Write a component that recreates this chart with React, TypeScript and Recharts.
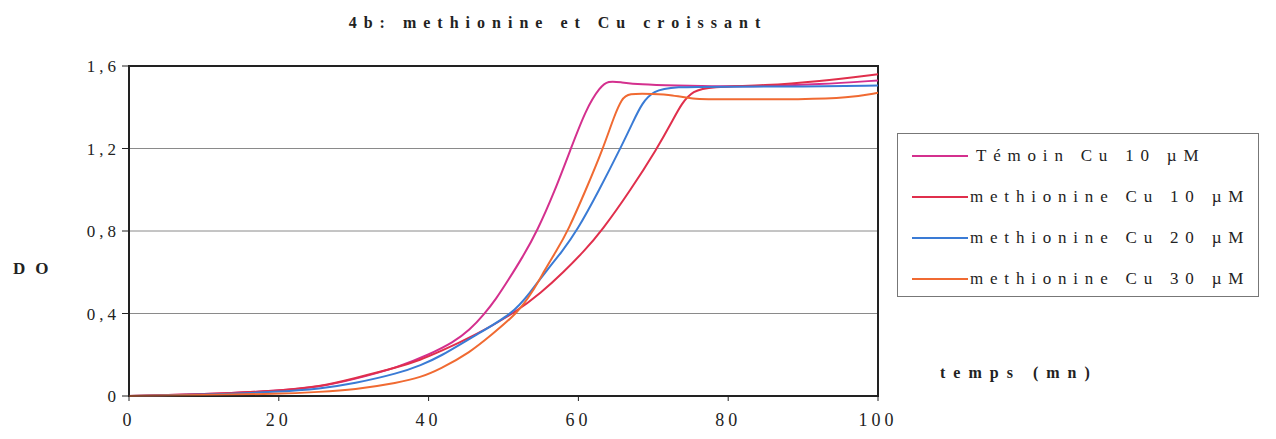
import React from 'react'
import {
  LineChart,
  Line,
  XAxis,
  YAxis,
  CartesianGrid,
  ReferenceArea,
} from 'recharts'

const xTicks = [0, 20, 40, 60, 80, 100]
const yTicks = [0, 0.4, 0.8, 1.2, 1.6]

// temps (mn) / DO
const temoinCu10 = [
  { t: 0, v: 0 }, { t: 10, v: 0.008 }, { t: 20, v: 0.025 }, { t: 25.5, v: 0.045 },
  { t: 30, v: 0.08 }, { t: 36, v: 0.14 }, { t: 40, v: 0.2 }, { t: 43.3, v: 0.26 },
  { t: 45.5, v: 0.32 }, { t: 47.5, v: 0.4 }, { t: 49, v: 0.47 }, { t: 50.6, v: 0.56 },
  { t: 52.5, v: 0.67 }, { t: 54.5, v: 0.8 }, { t: 56.8, v: 0.99 }, { t: 59, v: 1.2 },
  { t: 61, v: 1.39 }, { t: 62.9, v: 1.5 }, { t: 64, v: 1.528 }, { t: 65.5, v: 1.522 },
  { t: 68.2, v: 1.51 }, { t: 73, v: 1.505 }, { t: 79, v: 1.5 }, { t: 85, v: 1.503 },
  { t: 92, v: 1.51 }, { t: 100, v: 1.53 },
]
const methCu10 = [
  { t: 0, v: 0 }, { t: 10, v: 0.008 }, { t: 20, v: 0.025 }, { t: 25.5, v: 0.045 },
  { t: 30, v: 0.085 }, { t: 36, v: 0.14 }, { t: 38.9, v: 0.175 }, { t: 41.5, v: 0.215 },
  { t: 46, v: 0.29 }, { t: 51.8, v: 0.41 }, { t: 55, v: 0.5 }, { t: 58, v: 0.6 },
  { t: 60.7, v: 0.7 }, { t: 63.1, v: 0.8 }, { t: 67, v: 1.0 }, { t: 70.5, v: 1.2 },
  { t: 72.5, v: 1.33 }, { t: 73.8, v: 1.42 }, { t: 75.3, v: 1.48 }, { t: 77.5, v: 1.5 },
  { t: 85, v: 1.505 }, { t: 92, v: 1.525 }, { t: 100, v: 1.56 },
]
const methCu20 = [
  { t: 0, v: 0 }, { t: 10, v: 0.006 }, { t: 20, v: 0.02 }, { t: 25.5, v: 0.035 },
  { t: 30, v: 0.06 }, { t: 36, v: 0.11 }, { t: 39, v: 0.15 }, { t: 41.5, v: 0.19 },
  { t: 46, v: 0.29 }, { t: 51.3, v: 0.4 }, { t: 53.5, v: 0.5 }, { t: 55.8, v: 0.61 },
  { t: 57.8, v: 0.7 }, { t: 59.8, v: 0.8 }, { t: 62.8, v: 1.0 }, { t: 65.6, v: 1.2 },
  { t: 67.3, v: 1.33 }, { t: 68.5, v: 1.42 }, { t: 70, v: 1.48 }, { t: 72.6, v: 1.5 },
  { t: 80, v: 1.5 }, { t: 90, v: 1.5 }, { t: 100, v: 1.505 },
]
const methCu30 = [
  { t: 0, v: 0 }, { t: 10, v: 0.004 }, { t: 20, v: 0.01 }, { t: 25.5, v: 0.02 },
  { t: 30, v: 0.03 }, { t: 36, v: 0.065 }, { t: 38.9, v: 0.09 }, { t: 41.5, v: 0.13 },
  { t: 45.5, v: 0.21 }, { t: 48.5, v: 0.3 }, { t: 51.8, v: 0.4 }, { t: 53.8, v: 0.5 },
  { t: 55.5, v: 0.61 }, { t: 57, v: 0.7 }, { t: 58.6, v: 0.8 }, { t: 61, v: 1.0 },
  { t: 63.3, v: 1.2 }, { t: 64.8, v: 1.36 }, { t: 65.8, v: 1.44 }, { t: 66.6, v: 1.468 },
  { t: 70, v: 1.465 }, { t: 72.6, v: 1.46 }, { t: 74.8, v: 1.44 }, { t: 80, v: 1.438 },
  { t: 90, v: 1.438 }, { t: 96, v: 1.445 }, { t: 100, v: 1.47 },
]

const series = [
  { name: 'Témoin Cu 10 µM', data: temoinCu10, color: '#d4308e' },
  { name: 'methionine Cu 10 µM', data: methCu10, color: '#e02f4c' },
  { name: 'methionine Cu 20 µM', data: methCu20, color: '#3a7bd5' },
  { name: 'methionine Cu 30 µM', data: methCu30, color: '#f06a32' },
]

const serif = '"Liberation Serif", "DejaVu Serif", serif'

function LegendBox() {
  return (
    <div
      style={{
        position: 'absolute',
        left: 889,
        top: 125,
        border: '1px solid #777',
        width: 362,
        height: 164,
        boxSizing: 'border-box',
        padding: '1px 0 0 14px',
        fontFamily: serif,
        fontSize: 17,
        letterSpacing: 6.8,
        color: '#222',
        background: '#fff',
      }}
    >
      {series.map((s) => (
        <div key={s.name} style={{ display: 'flex', alignItems: 'center', height: 41 }}>
          <div style={{ width: 56, height: 2, background: s.color, marginRight: s.name.startsWith('T') ? 8 : 2 }} />
          <span>{s.name}</span>
        </div>
      ))}
    </div>
  )
}

export default function App() {
  return (
    <div style={{ position: 'relative', width: 1268, height: 431, fontFamily: serif }}>
      <div
        style={{
          position: 'absolute', left: 0, width: 1100, top: 6, textAlign: 'center',
          fontWeight: 'bold', fontSize: 16, letterSpacing: 7, color: '#222',
        }}
      >
        4b: methionine et Cu croissant
      </div>
      <div style={{ position: 'absolute', left: 5, top: 251, fontWeight: 'bold', fontSize: 17, letterSpacing: 10, color: '#222' }}>
        DO
      </div>
      <div style={{ position: 'absolute', left: 932, top: 356, fontWeight: 'bold', fontSize: 16, letterSpacing: 8, color: '#222' }}>
        temps (mn)
      </div>
      <LineChart
        width={1268}
        height={431}
        margin={{ top: 58, right: 398, left: 61, bottom: 13 }}
      >
        <CartesianGrid horizontal vertical={false} stroke="#8a8a8a" strokeWidth={1} />
        <XAxis
          type="number"
          dataKey="t"
          domain={[0, 100]}
          ticks={xTicks}
          allowDataOverflow
          height={30}
          tickSize={5}
          tickMargin={12}
          tick={{ fontSize: 18, fill: '#222', fontFamily: serif, letterSpacing: 4 }}
          stroke="#222"
        />
        <YAxis
          type="number"
          domain={[0, 1.6]}
          ticks={yTicks}
          width={60}
          tickSize={7}
          tickFormatter={(v: number) => String(v).replace('.', ',')}
          tick={{ fontSize: 17, fill: '#222', fontFamily: serif, letterSpacing: 4 }}
          stroke="#222"
        />
        <ReferenceArea x1={0} x2={100} y1={0} y2={1.6} fill="none" stroke="#222" strokeWidth={2} />
        {series.map((s) => (
          <Line
            key={s.name}
            data={s.data}
            dataKey="v"
            name={s.name}
            type="basis"
            stroke={s.color}
            strokeWidth={2}
            dot={false}
            isAnimationActive={false}
          />
        ))}
      </LineChart>
      <LegendBox />
    </div>
  )
}
